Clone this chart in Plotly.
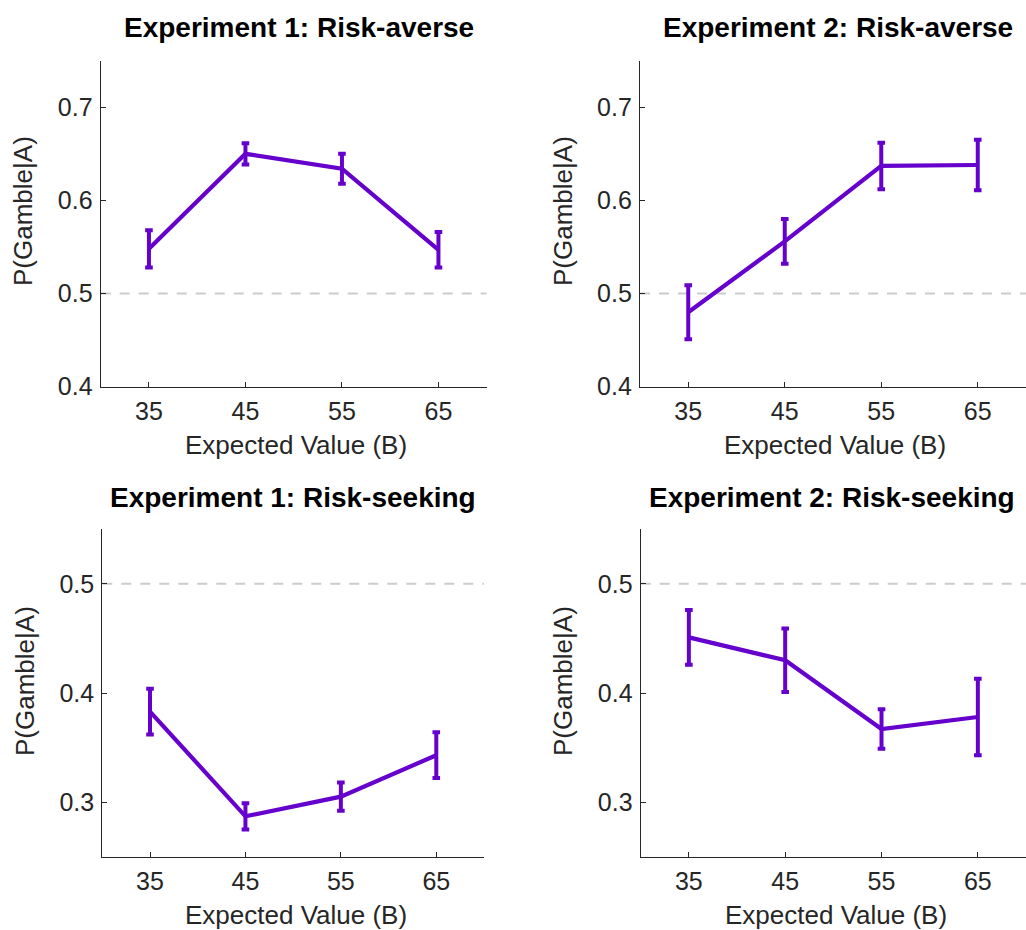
import plotly.graph_objects as go

ev = [35, 45, 55, 65]
exp1_averse = [0.548, 0.650, 0.634, 0.547]
exp1_averse_err = [0.020, 0.0115, 0.016, 0.019]
exp2_averse = [0.480, 0.556, 0.637, 0.638]
exp2_averse_err = [0.029, 0.024, 0.025, 0.027]
exp1_seeking = [0.383, 0.287, 0.305, 0.343]
exp1_seeking_err = [0.021, 0.012, 0.013, 0.021]
exp2_seeking = [0.451, 0.430, 0.367, 0.378]
exp2_seeking_err = [0.025, 0.029, 0.018, 0.035]
chance = 0.5
xlim = [30, 70]
titles = ["Experiment 1: Risk-averse", "Experiment 2: Risk-averse",
          "Experiment 1: Risk-seeking", "Experiment 2: Risk-seeking"]
xlabel = "Expected Value (B)"
ylabel = "P(Gamble|A)"

W = 1026
REF_H = 930
S = 944 / 930          # vertical compensation for the capture
H = round(REF_H * S)
LINE = "#6600CC"
TXT = "#262626"
FONT = "Liberation Sans, Arial, Helvetica, sans-serif"

panels = [
    dict(y=exp1_averse, e=exp1_averse_err, xd=(100.7, 486.7), yd=(60.7, 386.7),
         yr=[0.4, 0.75], tv=[0.4, 0.5, 0.6, 0.7], title=titles[0],
         tpos=(299, 27), ylpos=(23, 211), xlpos=(296, 445)),
    dict(y=exp2_averse, e=exp2_averse_err, xd=(640.0, 1026.0), yd=(60.7, 386.7),
         yr=[0.4, 0.75], tv=[0.4, 0.5, 0.6, 0.7], title=titles[1],
         tpos=(838, 27), ylpos=(563, 211), xlpos=(835, 445)),
    dict(y=exp1_seeking, e=exp1_seeking_err, xd=(102.3, 484.0), yd=(529.3, 856.7),
         yr=[0.25, 0.55], tv=[0.3, 0.4, 0.5], title=titles[2],
         tpos=(293, 497), ylpos=(25, 681), xlpos=(296, 915)),
    dict(y=exp2_seeking, e=exp2_seeking_err, xd=(640.7, 1026.0), yd=(529.3, 856.7),
         yr=[0.25, 0.55], tv=[0.3, 0.4, 0.5], title=titles[3],
         tpos=(832, 497), ylpos=(563, 681), xlpos=(836, 915)),
]


def py(v):
    return 1 - v / REF_H


fig = go.Figure()
annotations = []
for i, p in enumerate(panels):
    n = "" if i == 0 else str(i + 1)
    xa, ya = "x" + n, "y" + n
    fig.add_trace(go.Scatter(x=xlim, y=[chance, chance], mode="lines",
                             line=dict(color="#cccccc", width=2, dash="10px,9px"),
                             xaxis=xa, yaxis=ya, showlegend=False, hoverinfo="skip"))
    fig.add_trace(go.Scatter(x=ev, y=p["y"], mode="lines",
                             line=dict(color=LINE, width=4.2),
                             error_y=dict(type="data", array=p["e"], visible=True,
                                          color=LINE, thickness=4, width=3.8),
                             xaxis=xa, yaxis=ya, showlegend=False))
    axstyle = dict(showgrid=False, zeroline=False, showline=True, linecolor=TXT,
                   linewidth=1.3, ticks="inside", ticklen=5, tickcolor=TXT,
                   tickfont=dict(family=FONT, size=25, color=TXT))
    fig.layout["xaxis" + n] = dict(
        domain=[p["xd"][0] / W, p["xd"][1] / W], range=xlim, anchor=ya,
        tickvals=ev, ticklabelstandoff=2, **axstyle)
    fig.layout["yaxis" + n] = dict(
        domain=[py(p["yd"][1]), py(p["yd"][0])], range=p["yr"], anchor=xa,
        tickvals=p["tv"], tickformat=".1f", ticklabelstandoff=2, **axstyle)
    annotations.append(dict(text="<b>" + p["title"] + "</b>", xref="paper", yref="paper",
                            x=p["tpos"][0] / W, y=py(p["tpos"][1]),
                            xanchor="center", yanchor="middle", showarrow=False,
                            font=dict(family=FONT, size=28, color="black")))
    annotations.append(dict(text=ylabel, xref="paper", yref="paper",
                            x=p["ylpos"][0] / W, y=py(p["ylpos"][1]), textangle=-90,
                            xanchor="center", yanchor="middle", showarrow=False,
                            font=dict(family=FONT, size=26, color=TXT)))
    annotations.append(dict(text=xlabel, xref="paper", yref="paper",
                            x=p["xlpos"][0] / W, y=py(p["xlpos"][1]),
                            xanchor="center", yanchor="middle", showarrow=False,
                            font=dict(family=FONT, size=26, color=TXT)))

fig.update_layout(width=W, height=H, autosize=False, margin=dict(l=0, r=0, t=0, b=0),
                  paper_bgcolor="white", plot_bgcolor="white",
                  annotations=annotations, showlegend=False)
post = ("document.documentElement.style.margin='0';"
        "document.body.style.margin='0';")
fig.write_html("out.html", config={"displayModeBar": False}, post_script=post)
